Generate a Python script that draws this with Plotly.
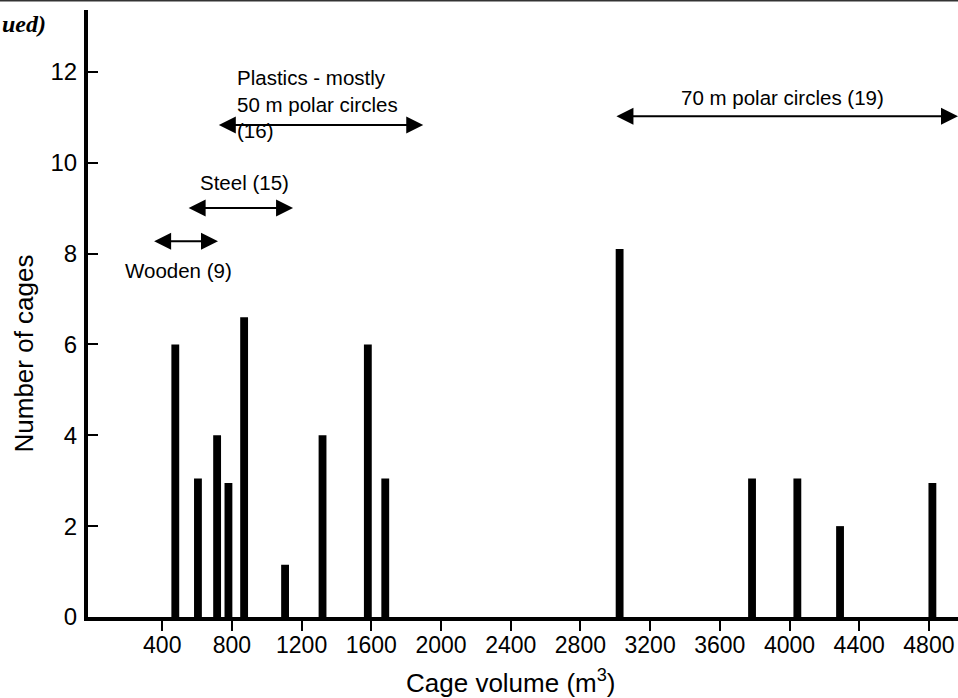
import plotly.graph_objects as go

# Data
cage_volume = [475, 605, 715, 780, 870, 1105, 1320, 1580, 1680, 3025, 3785, 4045, 4290, 4820]
num_cages = [6.0, 3.05, 4.0, 2.95, 6.6, 1.15, 4.0, 6.0, 3.05, 8.1, 3.05, 3.05, 2.0, 2.95]
x_ticks = [400, 800, 1200, 1600, 2000, 2400, 2800, 3200, 3600, 4000, 4400, 4800]
y_ticks = [0, 2, 4, 6, 8, 10, 12]

FONT = "Liberation Sans, Arial, sans-serif"

fig = go.Figure()
fig.add_trace(go.Bar(
    x=cage_volume, y=num_cages, width=45,
    marker=dict(color="black", line=dict(width=0)),
    showlegend=False, hoverinfo="x+y",
))

fig.update_layout(
    width=958, height=698,
    margin=dict(l=88, r=0, t=10, b=81),
    paper_bgcolor="white", plot_bgcolor="white",
    font=dict(family=FONT, color="black"),
    xaxis=dict(
        range=[-26, 4967], tickvals=x_ticks,
        ticktext=[str(v) for v in x_ticks],
        ticks="outside", ticklen=10, tickwidth=1.5, tickcolor="black",
        showline=True, linewidth=3.5, linecolor="black",
        showgrid=False, zeroline=False, ticklabelstandoff=-5,
        tickfont=dict(size=23, family=FONT),
    ),
    yaxis=dict(
        range=[0, 13.36], tickvals=y_ticks,
        ticks="inside", ticklen=10, tickwidth=1.5, tickcolor="black",
        showline=True, linewidth=4, linecolor="black",
        showgrid=False, zeroline=False, ticklabelstandoff=2,
        tickfont=dict(size=24, family=FONT),
    ),
)

# Axis titles as annotations (placed as in reference)
fig.add_annotation(text="Cage volume (m<sup>3</sup>)", xref="paper", yref="paper",
                   x=(511 - 88) / 870, y=-(681 - 617) / 607, showarrow=False,
                   font=dict(size=26, family=FONT), xanchor="center", yanchor="middle")
fig.add_annotation(text="Number of cages", xref="paper", yref="paper",
                   x=-(88 - 23) / 870, y=(617 - 353.5) / 607, showarrow=False,
                   textangle=-90, font=dict(size=26, family=FONT),
                   xanchor="center", yanchor="middle")

# Range arrows (double-headed)
arrows = [
    (345, 720, 8.27),
    (543, 1151, 9.0),
    (716, 1898, 10.83),
    (2998, 4967, 11.02),
]
for x0, x1, yy in arrows:
    fig.add_annotation(x=x1, y=yy, ax=x0, ay=yy, xref="x", yref="y", axref="x", ayref="y",
                       text="", showarrow=True, arrowhead=2, startarrowhead=2,
                       arrowside="end+start", arrowsize=1.7, startarrowsize=1.7,
                       arrowwidth=2, arrowcolor="black", standoff=0, startstandoff=0)

labels = [
    ("Wooden (9)", 178, 270, "center"),
    ("Steel (15)", 244.5, 182, "center"),
    ("70 m polar circles (19)", 782.5, 97, "center"),
]
for txt, px, py, anc in labels:
    fig.add_annotation(text=txt, xref="paper", yref="paper",
                       x=(px - 88) / 870, y=(617 - py) / 607, showarrow=False,
                       font=dict(size=20.5, family=FONT), xanchor=anc, yanchor="middle")

fig.add_annotation(text="Plastics - mostly<br>50 m polar circles<br>(16)", xref="paper", yref="paper",
                   x=(235 - 88) / 870, y=(617 - 104) / 607, showarrow=False, align="left",
                   font=dict(size=20.5, family=FONT), xanchor="left", yanchor="middle")

# Fragment of page text at top-left
fig.add_annotation(text="<b><i>ued)</i></b>", xref="paper", yref="paper",
                   x=-(88 - 0) / 870, y=(617 - 24) / 607, showarrow=False,
                   font=dict(size=24, family="Liberation Serif, Times New Roman, serif"),
                   xanchor="left", yanchor="middle")

# Page rule at the very top
fig.add_shape(type="line", xref="paper", yref="paper", x0=-88 / 870, x1=1,
              y0=1 + 9.2 / 607, y1=1 + 9.2 / 607, line=dict(color="#333333", width=1.5))

fig.write_html("out.html", config={"displayModeBar": False},
               post_script="document.body.style.margin='0';document.body.style.overflow='hidden';")
